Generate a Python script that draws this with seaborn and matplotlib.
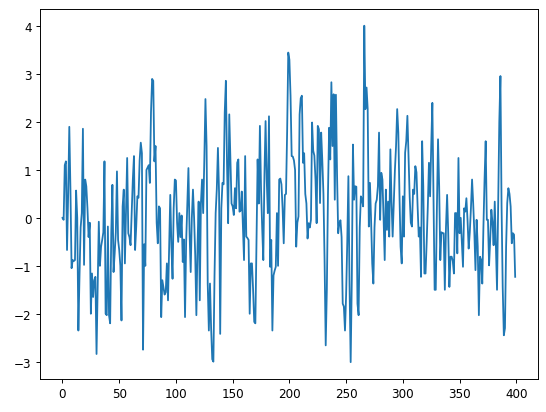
import numpy as np
import pandas as pd
import matplotlib
matplotlib.use("Agg")
import matplotlib.pyplot as plt
import seaborn as sns

# values, one per step
values = [
    0.0, -0.04, 1.1, 1.18, -0.67, 0.5, 1.9, 0.6, -1.05, -0.88,
    -0.9, -0.88, 0.57, 0.0, -2.35, -1.2, -0.2, 0.1, 1.86, -0.98,
    0.8, 0.66, 0.2, -0.4, -0.1, -2.0, -1.16, -1.65, -1.3, -1.23,
    -2.84, -1.5, -0.08, -1.0, -0.6, -0.46, -0.3, 1.18, -2.0, -2.03,
    -0.18, -2.03, -2.2, -0.3, 0.69, -1.13, -0.74, -0.3, 0.97, -0.46,
    -0.67, -1.0, -2.14, 0.24, 0.59, -0.95, 0.2, 1.25, -0.32, -0.4,
    -0.57, 0.1, 0.8, 1.29, -0.67, -0.18, 0.45, 0.42, 1.2, 1.57,
    1.35, -2.75, -0.55, -1.0, 1.0, 1.05, 1.1, 0.73, 2.2, 2.9,
    2.86, 1.18, 1.5, -0.1, -0.53, 0.24, 0.2, -2.07, -1.3, -1.45,
    -1.6, -1.55, -0.95, -1.72, -0.6, 0.48, -0.6, -1.27, 0.2, 0.8,
    0.78, -0.1, -0.5, 0.1, -0.4, 0.05, -0.92, -0.45, -2.07, -0.5,
    0.3, 1.04, -0.3, -1.13, 0.0, 0.59, 0.0, -0.8, -2.03, -0.6,
    0.34, -1.72, 0.3, 0.8, 0.1, 1.2, 2.48, 1.5, -1.37, -2.35,
    -1.37, -2.3, -2.95, -3.0, -1.2, 0.1, 0.6, 1.46, 0.52, -2.42,
    0.2, 0.73, 0.7, 2.2, 2.86, 1.15, -0.11, 2.16, 1.2, 0.3,
    0.24, 0.06, 0.62, 0.2, 1.15, 1.22, 0.13, 0.15, 0.55, -0.2,
    -0.88, 1.29, -0.39, -0.42, -0.46, -2.0, -0.95, -0.95, -1.5, -2.17,
    -2.2, -0.5, 1.22, 0.3, 1.92, 0.6, -0.2, -0.88, 0.9, 2.02,
    0.8, 0.1, 2.12, -1.02, -0.46, -2.35, -1.2, -1.1, -1.02, 0.1,
    -1.0, 0.8, 0.82, 0.7, 0.2, -0.53, 0.48, 0.5, 1.8, 3.45,
    3.3, 2.55, 1.29, 1.28, 1.2, 1.0, -0.6, -0.1, 0.03, 2.16,
    2.5, 2.55, 1.15, 1.35, 0.5, 0.3, -0.43, -0.11, -0.2, -0.04,
    1.99, 1.4, 1.3, 0.8, -0.11, 1.92, 1.85, 0.31, 1.78, 1.2,
    0.5, -0.88, -2.66, -1.5, 0.5, 1.88, 1.22, 2.83, 1.5, 2.58,
    0.38, 2.57, 0.9, -0.32, -0.11, -0.05, -0.4, -1.79, -1.85, -2.35,
    -1.6, -0.5, 0.87, -1.4, -3.01, -1.3, 1.53, 0.38, 0.66, 0.65,
    -1.79, -2.03, -0.2, 0.45, 0.38, 0.24, 4.01, 2.27, 2.72, 2.27,
    -0.18, 0.73, -0.05, -0.95, -1.37, -0.2, 0.3, 0.38, 0.66, 1.78,
    -0.04, 0.94, 0.8, 0.0, -0.88, 0.59, -0.25, 0.34, -0.39, 1.43,
    0.34, -0.39, 0.3, 1.0, 1.5, 2.27, 1.78, 0.5, -0.6, -0.95,
    0.45, -0.39, 1.36, 1.6, 2.13, 1.3, 0.45, -0.1, -0.18, 0.59,
    0.5, 1.08, 0.95, 0.24, -0.39, -0.2, -1.23, 1.6, 0.66, -1.16,
    -1.16, -0.5, 0.24, 1.15, 0.45, 1.5, 2.4, 0.52, -1.5, -1.5,
    0.2, 1.64, 0.66, -0.88, -0.3, -0.32, -0.32, -1.5, -0.2, 0.48,
    -0.32, -1.44, -0.81, -0.81, -0.9, -1.16, 0.1, 0.1, -0.74, 1.25,
    -0.32, 0.0, -0.5, -1.02, 0.2, 0.13, 0.41, -0.04, -0.64, -0.3,
    0.2, 0.8, 0.3, -0.3, -1.09, -0.04, -0.6, -2.03, -0.81, -0.88,
    -1.37, -0.2, 0.8, 1.6, -0.04, -0.04, -0.99, -0.45, 0.17, -0.1,
    -0.57, 0.34, -0.6, -1.5, 0.24, 2.0, 2.96, 0.24, -1.44, -2.45,
    -2.3, -0.6, 0.31, 0.62, 0.5, 0.24, -0.53, -0.32, -0.35, -1.23,
]
steps = np.arange(len(values))

x_ticks = [0, 50, 100, 150, 200, 250, 300, 350, 400]
y_ticks = [-3, -2, -1, 0, 1, 2, 3, 4]

df = pd.DataFrame({"step": steps, "value": values})

fig, ax = plt.subplots(figsize=(546 / 86, 413 / 86), dpi=86)
fig.subplots_adjust(left=0.073, right=0.985, bottom=0.080, top=0.976)

sns.lineplot(data=df, x="step", y="value", color="#1f77b4", linewidth=1.5, ax=ax)

ax.set_xticks(x_ticks)
ax.set_yticks(y_ticks)
ax.set_xlabel("")
ax.set_ylabel("")

fig.savefig("out.png", dpi=86)
